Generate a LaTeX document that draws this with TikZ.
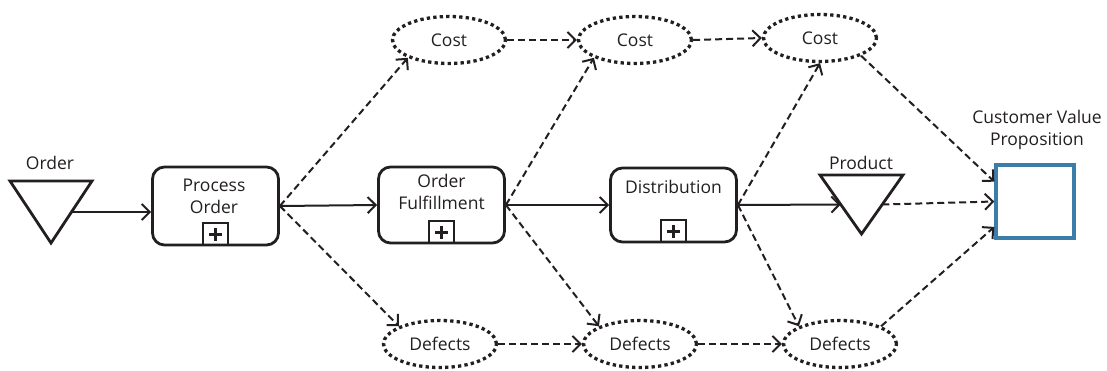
\documentclass[tikz,border=0pt]{standalone}
\usepackage{fontspec}
\setmainfont{Open Sans}
\usetikzlibrary{arrows.meta,shapes.geometric,calc}
\definecolor{ink}{HTML}{231F20}
\definecolor{cvpblue}{HTML}{3C7DAA}
\begin{document}
\begin{tikzpicture}[x=1pt,y=-1pt,
  every node/.style={text=ink, font=\fontsize{17.5}{22}\selectfont},
  taskbox/.style={draw=ink, line width=2.8pt, rounded corners=12pt,
    minimum width=126pt, minimum height=76pt, inner sep=0pt},
  marker/.style={draw=ink, line width=2.2pt, minimum width=25pt,
    minimum height=22pt, inner sep=0pt, anchor=south},
  trigbox/.style={inner sep=0pt, outer sep=0pt},
  trigline/.style={draw=ink, line width=2.8pt, line join=miter},
  measure/.style={ellipse, draw=ink, line width=3.3pt,
    dash pattern=on 3.3pt off 3.2pt, minimum width=113pt,
    minimum height=47pt, inner sep=0pt},
  flow/.style={draw=ink, line width=2pt,
    -{Straight Barb[length=8pt,width=16pt,line width=2pt]}},
  dflow/.style={flow, dash pattern=on 7pt off 4pt},
]
\useasboundingbox (0,0) rectangle (1107,370);

% triangles (inputs / outputs)
\node[trigbox, minimum width=82pt, minimum height=62pt] (ord) at (51,212) {};
\draw[trigline] (ord.north west) -- (ord.north east) -- (ord.south) -- cycle;
\node (ordlbl) at (50,163) {Order};
\coordinate (ordout) at ($(ord.north east)!0.5!(ord.south)$);

\node[trigbox, minimum width=83pt, minimum height=59pt] (prod) at (861.5,204.5) {};
\draw[trigline] (prod.north west) -- (prod.north east) -- (prod.south) -- cycle;
\node (prodlbl) at (861,163) {Product};
\coordinate (prodin) at ($(prod.north west)!0.5!(prod.south)$);
\coordinate (prodout) at ($(prod.north east)!0.5!(prod.south)$);

% sub-processes
\node[taskbox, minimum height=78pt] (po) at (215.5,206) {};
\node[align=center] (potxt) at (214,196) {Process\\Order};
\node[marker] (pom) at (po.south) {};

\node[taskbox] (of) at (441.5,205) {};
\node[align=center] (oftxt) at (441.5,192) {Order\\Fulfillment};
\node[marker] (ofm) at (of.south) {};

\node[taskbox, minimum height=74pt] (dist) at (673.5,205) {};
\node (disttxt) at (673.5,187) {Distribution};
\node[marker] (distm) at (dist.south) {};

\foreach \m in {pom,ofm,distm}{
  \draw[ink, line width=2.8pt] ($(\m.center)+(-6.5,0)$) -- ($(\m.center)+(6.5,0)$)
    ($(\m.center)+(0,-6.5)$) -- ($(\m.center)+(0,6.5)$);
}

% customer value proposition
\node[draw=cvpblue, line width=3.4pt, minimum width=78pt, minimum height=73pt,
  inner sep=0pt] (cvp) at (1035,201.5) {};
\node[align=center] (cvptxt) at (1037,130) {Customer Value\\Proposition};

% measures
\node[measure] (c1) at (449,40) {Cost};
\node[measure] (c2) at (635,40) {Cost};
\node[measure] (c3) at (820,38) {Cost};
\node[measure] (d1) at (440,344) {Defects};
\node[measure] (d2) at (640,344) {Defects};
\node[measure] (d3) at (840,344) {Defects};

% control flow
\draw[flow] (ordout) -- (ordout -| po.west);
\draw[flow] (po.east) -- (of.west);
\draw[flow] (of.east) -- (dist.west);
\draw[flow] (dist.east) -- (prodin);

% measure flow
\draw[dflow] (po.east) -- (c1.south west);
\draw[dflow] (po.east) -- (d1.north west);
\draw[dflow] (of.east) -- (c2.south west);
\draw[dflow] (of.east) -- (d2.north west);
\draw[dflow] (dist.east) -- (c3.south);
\draw[dflow] (dist.east) -- (d3.north west);
\draw[dflow] (c1.east) -- (c2.west);
\draw[dflow] (c2.east) -- (c3.west);
\draw[dflow] (d1.east) -- (d2.west);
\draw[dflow] (d2.east) -- (d3.west);
\draw[dflow] (c3.south east) -- (cvp.154);
\draw[dflow] (prodout) -- (cvp.west);
\draw[dflow] (d3.north east) -- (cvp.212);
\end{tikzpicture}
\end{document}
